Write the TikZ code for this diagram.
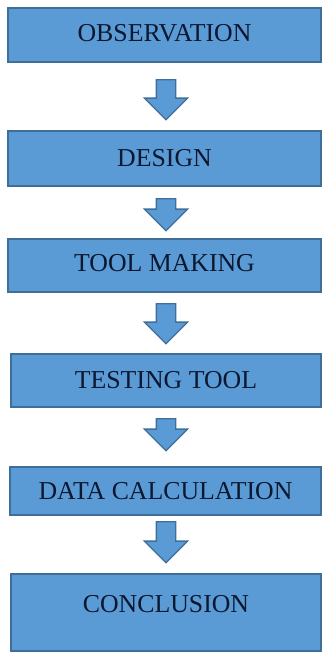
\documentclass[tikz,border=0pt]{standalone}
\usepackage{fontspec}
\setmainfont{Liberation Serif}
\usetikzlibrary{shapes.arrows}
\definecolor{stageblue}{HTML}{5B9BD5}
\definecolor{stageedge}{HTML}{3F6E98}
\definecolor{stagetext}{HTML}{0C1730}

\begin{document}
\begin{tikzpicture}[x=1pt,y=1pt,
	stage/.style={rectangle, draw=stageedge, line width=2.2pt, fill=stageblue, text=stagetext, font=\fontsize{25.8}{30}\selectfont, inner sep=0pt},
	downarrow/.style={single arrow, rotate=270, anchor=tail, draw=stageedge, line width=1.3pt, fill=stageblue, inner xsep=0pt, inner ysep=9pt, text height=0pt, text depth=0pt, single arrow head extend=12pt, single arrow tip angle=90}]
	\useasboundingbox (0,0) rectangle (323,-654);

	\node[stage, minimum width=313pt, minimum height=54pt, text depth=4pt](obs) at (164.5,-35){OBSERVATION};
	\node[stage, minimum width=313pt, minimum height=55pt](design) at (164.5,-158.5){DESIGN};
	\node[stage, minimum width=313pt, minimum height=53pt, text depth=5pt](toolmaking) at (164.5,-265.5){TOOL MAKING};
	\node[stage, minimum width=310pt, minimum height=53pt](testing) at (166,-380.5){TESTING TOOL};
	\node[stage, minimum width=311pt, minimum height=48pt](datacalc) at (165.5,-491){DATA CALCULATION};
	\node[stage, minimum width=310pt, minimum height=77pt, text depth=17pt](conclusion) at (166,-612.5){CONCLUSION};

	\node[downarrow, minimum height=40pt](a1) at ([shift={(1.5,-16)}]obs.south){};
	\node[downarrow, minimum height=32pt](a2) at ([shift={(1.5,-11)}]design.south){};
	\node[downarrow, minimum height=40pt](a3) at ([shift={(1.5,-10)}]toolmaking.south){};
	\node[downarrow, minimum height=32pt](a4) at ([shift={(0,-10)}]testing.south){};
	\node[downarrow, minimum height=41pt](a5) at ([shift={(0.5,-5)}]datacalc.south){};

\end{tikzpicture}
\end{document}
